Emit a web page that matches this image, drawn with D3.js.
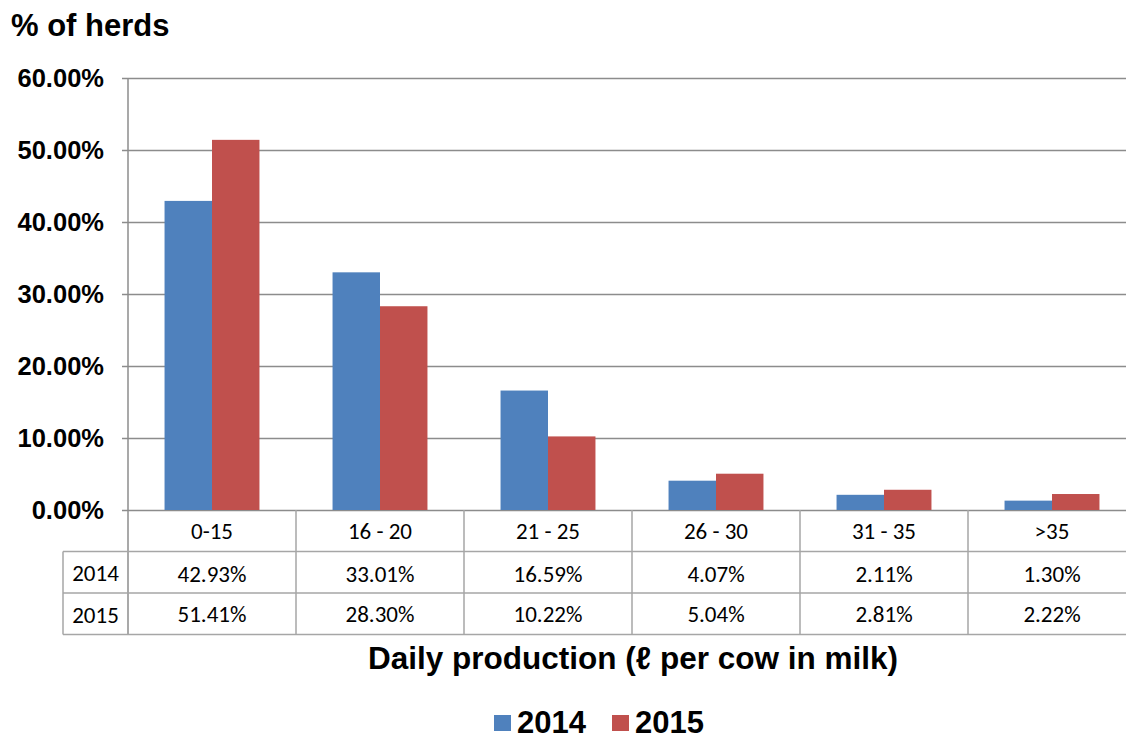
<!DOCTYPE html>
<html>
<head>
<meta charset="utf-8">
<script src="https://cdn.jsdelivr.net/npm/d3@7"></script>
<style>
  body { margin: 0; background: #fff; }
  svg { display: block; }
</style>
</head>
<body>
<svg id="chart" width="1126" height="738"></svg>
<script>
const categories = ['0-15', '16 - 20', '21 - 25', '26 - 30', '31 - 35', '>35'];
const seriesNames = ['2014', '2015'];
const values2014 = [42.93, 33.01, 16.59, 4.07, 2.11, 1.30];
const values2015 = [51.41, 28.30, 10.22, 5.04, 2.81, 2.22];
const yTicks = [0, 10, 20, 30, 40, 50, 60];
const COLORS = ['#4F81BD', '#C0504D'];

const svg = d3.select('#chart');
const X0 = 128, X1 = 1136, Y0 = 510, YTOP = 78;
const ROW_H = 41.5, LEFT_COL = 63;
const GRID = '#8c8c8c', TABLE_LINE = '#a6a6a6';
const BOLD = 'Liberation Sans, Arial, sans-serif';
const TABLE_FONT = 'Carlito, Open Sans, sans-serif';

const x = d3.scaleBand().domain(categories).range([X0, X1]).paddingInner(0).paddingOuter(0);
const xs = d3.scaleBand().domain(seriesNames).range([0, x.bandwidth()]).paddingOuter(0.77).paddingInner(0);
const y = d3.scaleLinear().domain([0, 60]).range([Y0, YTOP]);

// ── Gridlines + y ticks ─────────────────────────────────────
const gridG = svg.append('g');
yTicks.forEach(t => {
  gridG.append('line')
    .attr('x1', X0 - 6).attr('x2', X1)
    .attr('y1', y(t) + 0.5).attr('y2', y(t) + 0.5)
    .attr('stroke', GRID).attr('stroke-width', 1.5);
  gridG.append('text')
    .attr('x', 104).attr('y', y(t) + 9)
    .attr('text-anchor', 'end')
    .attr('font-family', BOLD).attr('font-weight', 'bold')
    .attr('font-size', '25.5px').attr('fill', '#000')
    .text(t.toFixed(2) + '%');
});
gridG.append('line')
  .attr('x1', X0).attr('x2', X0).attr('y1', YTOP).attr('y2', Y0 + ROW_H * 3)
  .attr('stroke', GRID).attr('stroke-width', 1.5);

// ── Bars ────────────────────────────────────────────────────
const rows = categories.map((c, i) => ({ cat: c, vals: [values2014[i], values2015[i]] }));
const barG = svg.append('g');
rows.forEach(r => {
  r.vals.forEach((v, si) => {
    barG.append('rect')
      .attr('x', x(r.cat) + xs(seriesNames[si]))
      .attr('y', y(v))
      .attr('width', xs.bandwidth())
      .attr('height', Y0 - y(v))
      .attr('fill', COLORS[si]);
  });
});

// ── Data table ──────────────────────────────────────────────
const tG = svg.append('g');
[1, 2, 3].forEach(k => {
  tG.append('line')
    .attr('x1', LEFT_COL).attr('x2', X1)
    .attr('y1', Y0 + ROW_H * k).attr('y2', Y0 + ROW_H * k)
    .attr('stroke', TABLE_LINE).attr('stroke-width', 1.5);
});
tG.append('line')
  .attr('x1', LEFT_COL).attr('x2', LEFT_COL)
  .attr('y1', Y0 + ROW_H).attr('y2', Y0 + ROW_H * 3)
  .attr('stroke', TABLE_LINE).attr('stroke-width', 1.5);
categories.forEach(c => {
  tG.append('line')
    .attr('x1', x(c) + x.bandwidth()).attr('x2', x(c) + x.bandwidth())
    .attr('y1', Y0).attr('y2', Y0 + ROW_H * 3)
    .attr('stroke', TABLE_LINE).attr('stroke-width', 1.5);
});
const cellText = (tx, ty, s) => tG.append('text')
  .attr('x', tx).attr('y', ty)
  .attr('text-anchor', 'middle')
  .attr('font-family', TABLE_FONT).attr('font-size', '23px').attr('fill', '#000')
  .text(s);
categories.forEach((c, i) => {
  const cx = x(c) + x.bandwidth() / 2;
  cellText(cx, Y0 + 29, c);
  cellText(cx, Y0 + ROW_H + 30, values2014[i].toFixed(2) + '%');
  cellText(cx, Y0 + ROW_H * 2 + 29, values2015[i].toFixed(2) + '%');
});
seriesNames.forEach((s, si) => {
  cellText((LEFT_COL + X0) / 2, Y0 + ROW_H * (1 + si) + 29.5, s);
});

// ── Titles ──────────────────────────────────────────────────
svg.append('text')
  .attr('x', 11).attr('y', 36)
  .attr('font-family', BOLD).attr('font-weight', 'bold').attr('font-size', '31px')
  .text('% of herds');
svg.append('text')
  .attr('x', 633).attr('y', 669)
  .attr('text-anchor', 'middle')
  .attr('font-family', BOLD).attr('font-weight', 'bold').attr('font-size', '31.5px')
  .text('Daily production (ℓ per cow in milk)');

// ── Legend ──────────────────────────────────────────────────
const legendX = [494, 612];
seriesNames.forEach((s, si) => {
  const lx = legendX[si];
  svg.append('rect')
    .attr('x', lx).attr('y', 715).attr('width', 17).attr('height', 16)
    .attr('fill', COLORS[si]);
  svg.append('text')
    .attr('x', lx + 23).attr('y', 733)
    .attr('font-family', BOLD).attr('font-weight', 'bold').attr('font-size', '31px')
    .text(s);
});
</script>
</body>
</html>
